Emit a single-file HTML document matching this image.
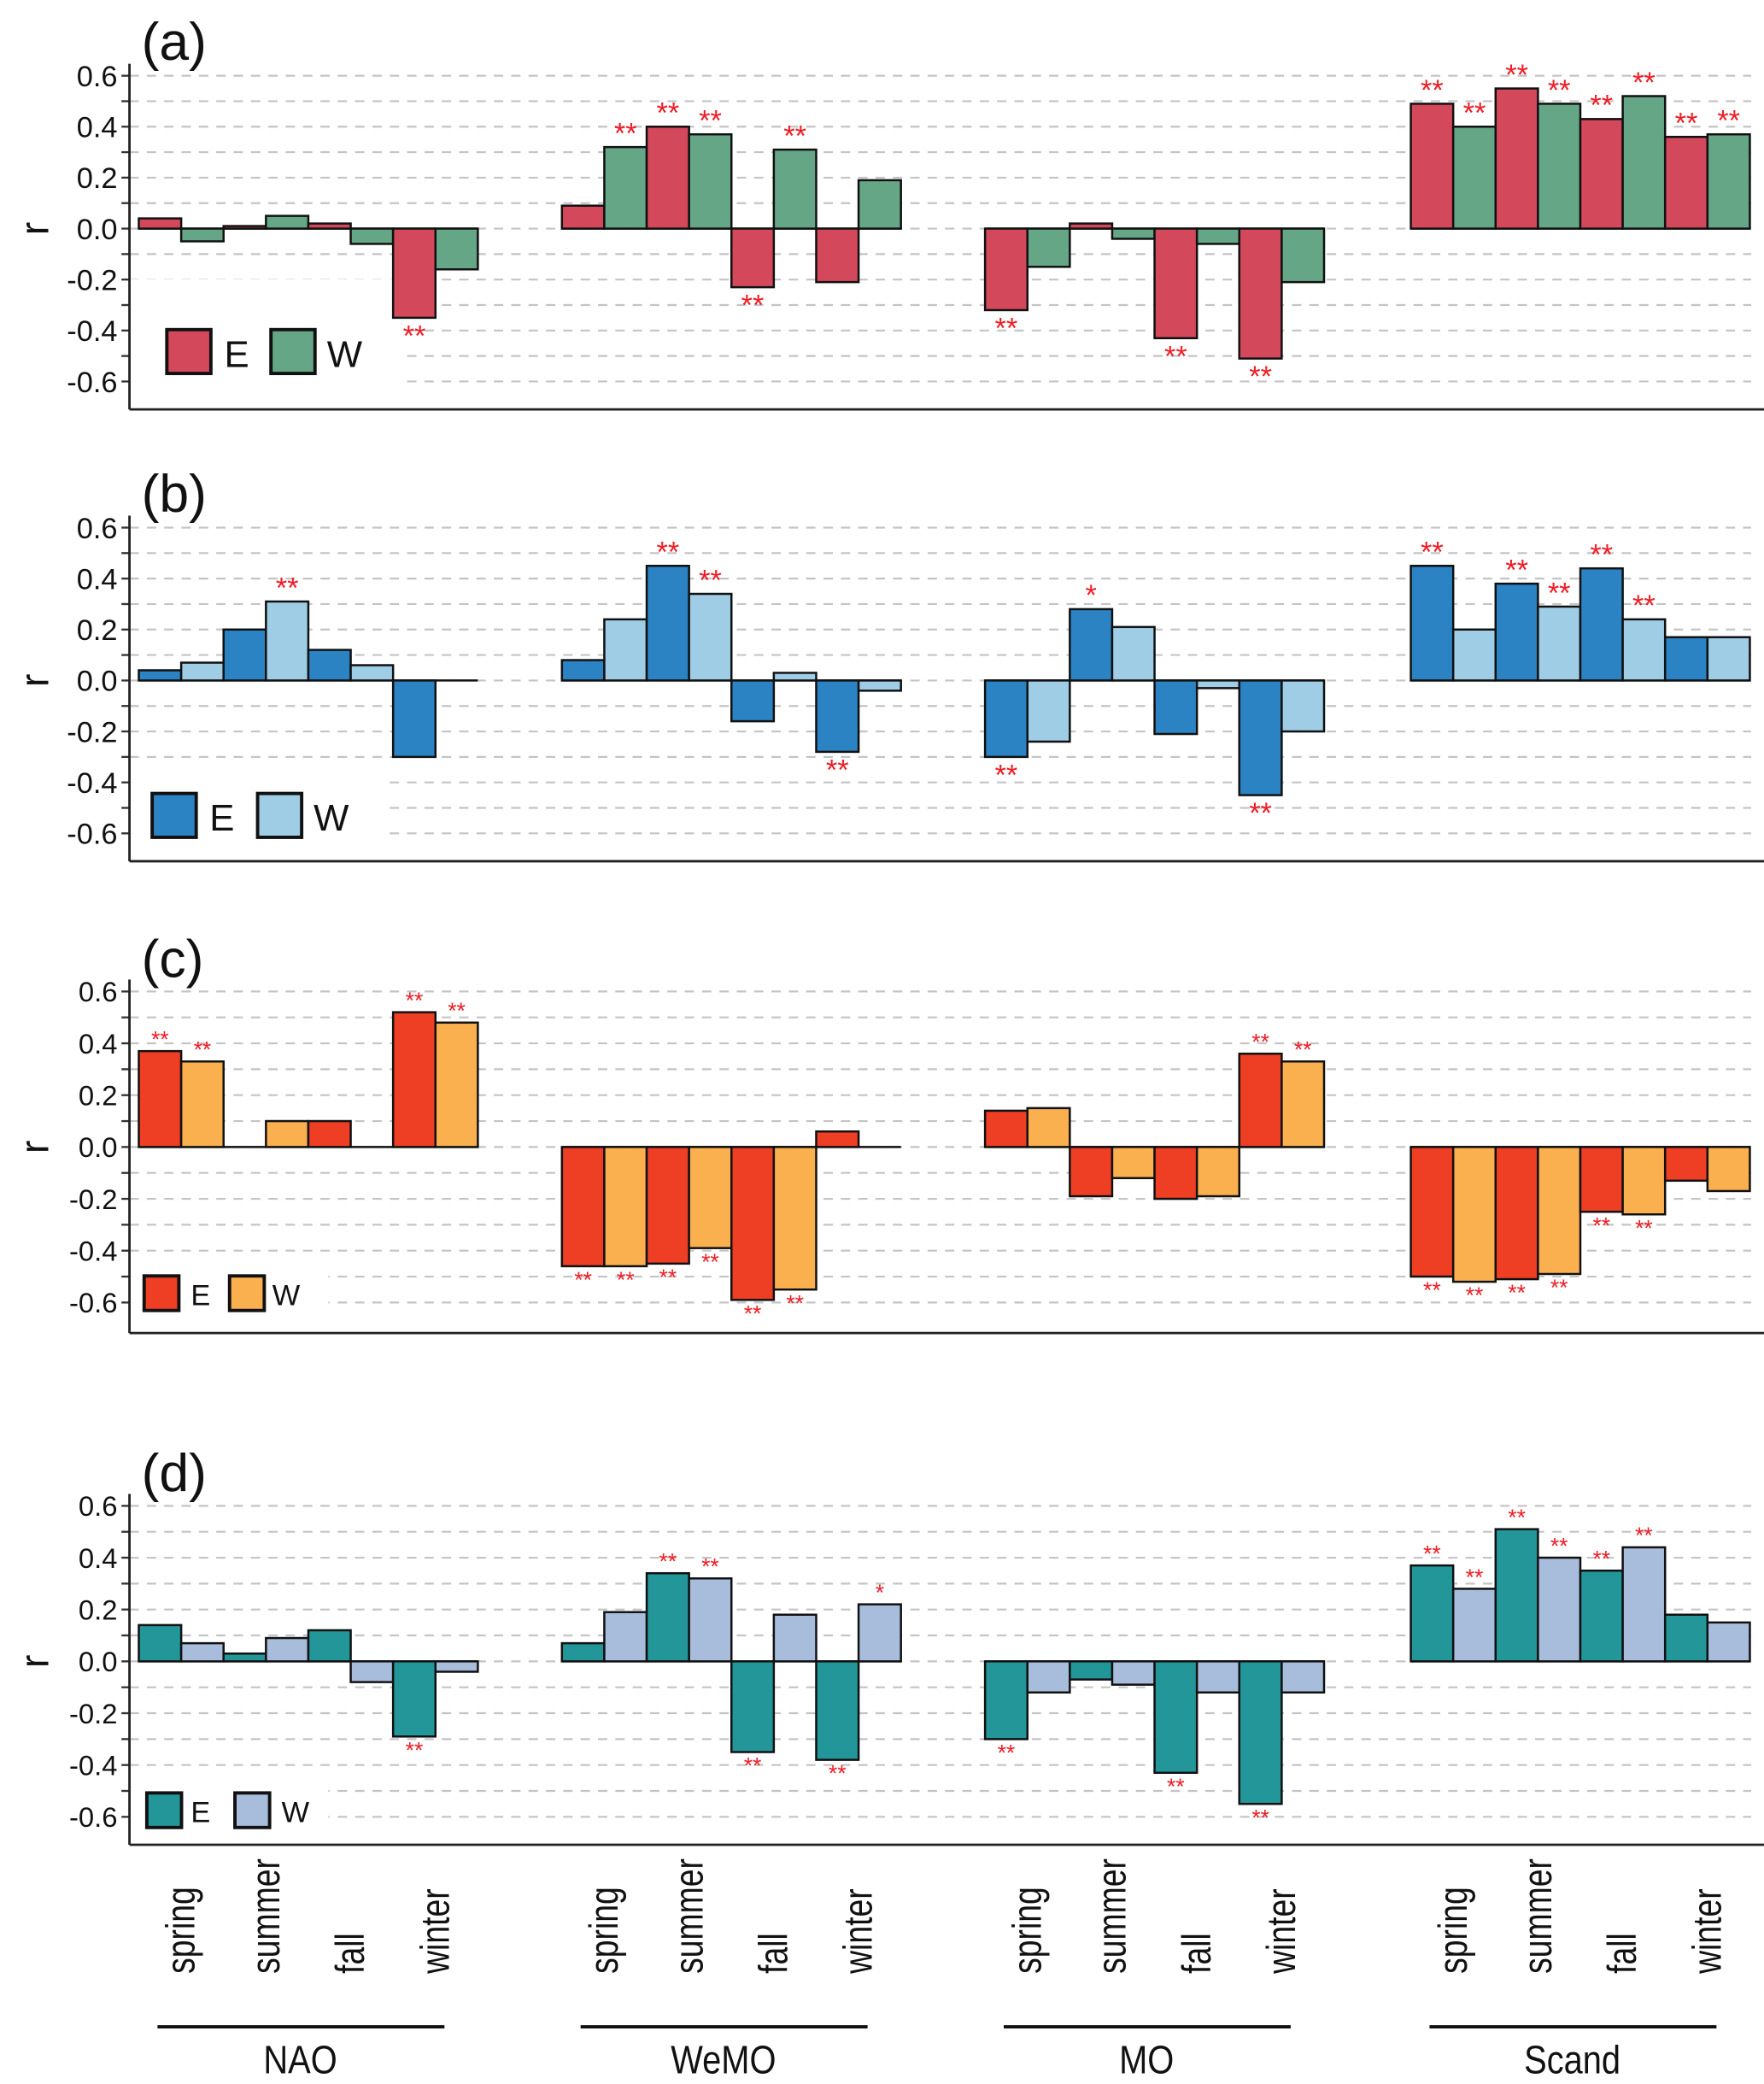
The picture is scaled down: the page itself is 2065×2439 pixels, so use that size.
<!DOCTYPE html>
<html><head><meta charset="utf-8"><style>
html,body{margin:0;padding:0;background:#fff}
svg{display:block}
text{font-family:"Liberation Sans","DejaVu Sans",sans-serif}
</style></head><body>
<svg id="chart" xmlns="http://www.w3.org/2000/svg" width="2065" height="2439" viewBox="0 0 1321.6 1568" preserveAspectRatio="none"></svg>
<script>
const groups = ["NAO","WeMO","MO","Scand"];
const seasons = ["spring","summer","fall","winter"];
const tickLabels = ["0.6","0.4","0.2","0.0","-0.2","-0.4","-0.6"];
const tickValues = [0.6,0.4,0.2,0,-0.2,-0.4,-0.6];
// values per group: E,W,E,W,... (spring E, spring W, summer E, summer W, ...)
const aVals = [
 [0.04,-0.05,0.01,0.05,0.02,-0.06,-0.35,-0.16],
 [0.09,0.32,0.40,0.37,-0.23,0.31,-0.21,0.19],
 [-0.32,-0.15,0.02,-0.04,-0.43,-0.06,-0.51,-0.21],
 [0.49,0.40,0.55,0.49,0.43,0.52,0.36,0.37]];
const aSig = [
 ["","","","","","","**",""],
 ["","**","**","**","**","**","",""],
 ["**","","","","**","","**",""],
 ["**","**","**","**","**","**","**","**"]];
const bVals = [
 [0.04,0.07,0.20,0.31,0.12,0.06,-0.30,0],
 [0.08,0.24,0.45,0.34,-0.16,0.03,-0.28,-0.04],
 [-0.30,-0.24,0.28,0.21,-0.21,-0.03,-0.45,-0.20],
 [0.45,0.20,0.38,0.29,0.44,0.24,0.17,0.17]];
const bSig = [
 ["","","","**","","","",""],
 ["","","**","**","","","**",""],
 ["**","","*","","","","**",""],
 ["**","","**","**","**","**","",""]];
const cVals = [
 [0.37,0.33,0,0.10,0.10,0,0.52,0.48],
 [-0.46,-0.46,-0.45,-0.39,-0.59,-0.55,0.06,0],
 [0.14,0.15,-0.19,-0.12,-0.20,-0.19,0.36,0.33],
 [-0.50,-0.52,-0.51,-0.49,-0.25,-0.26,-0.13,-0.17]];
const cSig = [
 ["**","**","","","","","**","**"],
 ["**","**","**","**","**","**","",""],
 ["","","","","","","**","**"],
 ["**","**","**","**","**","**","",""]];
const dVals = [
 [0.14,0.07,0.03,0.09,0.12,-0.08,-0.29,-0.04],
 [0.07,0.19,0.34,0.32,-0.35,0.18,-0.38,0.22],
 [-0.30,-0.12,-0.07,-0.09,-0.43,-0.12,-0.55,-0.12],
 [0.37,0.28,0.51,0.40,0.35,0.44,0.18,0.15]];
const dSig = [
 ["","","","","","","**",""],
 ["","","**","**","**","","**","*"],
 ["**","","","","**","","**",""],
 ["**","**","**","**","**","**","",""]];

const NS="http://www.w3.org/2000/svg";
const svg=document.getElementById('chart');
function mk(tag,attrs,parent){const e=document.createElementNS(NS,tag);for(const k in attrs)e.setAttribute(k,attrs[k]);(parent||svg).appendChild(e);return e;}

const groupStart=[104,421,738,1057];
const barW=31.75;
const axisX=97;

const panels=[
 {id:"a",vals:aVals,sig:aSig,zero:172,unit:191.7,top:48,bottom:308,label:"(a)",labY:45,cE:"#d4485c",cW:"#65a687",
  leg:{x1:125,x2:203,y:248,s:33,fs:28,tx:168,tx2:245,cover:[97,210,300]},sfs:22,tfs:22},
 {id:"b",vals:bVals,sig:bSig,zero:512,unit:191.7,top:388,bottom:648,label:"(b)",labY:385,cE:"#2b83c4",cW:"#9fcde6",
  leg:{x1:114,x2:193,y:597,s:33,fs:28,tx:157,tx2:235,cover:[97,575,290]},sfs:22,tfs:22},
 {id:"c",vals:cVals,sig:cSig,zero:863,unit:195,top:737,bottom:1003,label:"(c)",labY:735,cE:"#ee3e24",cW:"#fbb050",
  leg:{x1:108,x2:172,y:960,s:26,fs:22,tx:143,tx2:204,cover:[97,945,245]},sfs:17,tfs:21},
 {id:"d",vals:dVals,sig:dSig,zero:1250,unit:195,top:1124,bottom:1388,label:"(d)",labY:1122,cE:"#23969a",cW:"#a8bcdc",
  leg:{x1:110,x2:176,y:1349,s:26,fs:22,tx:143,tx2:211,cover:[97,1333,245]},sfs:17,tfs:21}
];

panels.forEach(p=>{
  const g=mk('g',{});
  
  
  const y=v=>p.zero-v*p.unit;
  for(let i=-6;i<=6;i++){
    const gl=mk('line',{x1:axisX,x2:1312,y1:y(i/10),y2:y(i/10),stroke:"#c4c4c4","stroke-width":1.4,"stroke-dasharray":"7 6"},g);
    
    
    const tk=mk('line',{x1:axisX-6,x2:axisX,y1:y(i/10),y2:y(i/10),stroke:"#333","stroke-width":1.5},g);
    
    
  }
  const c=p.leg.cover;
  const cov=mk('rect',{x:c[0]+1,y:c[1],width:c[2]-c[0],height:p.bottom-c[1]-2,fill:"#fff"},g);
  
  
  tickLabels.forEach((t,i)=>{
    const tl=mk('text',{x:88,y:y(tickValues[i])+p.tfs*0.36,"text-anchor":"end","font-size":p.tfs,fill:"#111"},g);
    tl.textContent=t;
    
    
  });
  const yt=mk('text',{x:0,y:0,transform:`translate(36,${p.zero}) rotate(-90)`,"text-anchor":"middle","font-size":30,fill:"#111"},g);
  yt.textContent="r";
  
  
  const pl=mk('text',{x:106,y:p.labY,"font-size":40,fill:"#111"},g);
  pl.textContent=p.label;
  
  
  p.vals.forEach((arr,gi)=>{
    const zl=mk('line',{x1:groupStart[gi],x2:groupStart[gi]+8*barW,y1:p.zero,y2:p.zero,stroke:"#111","stroke-width":1.6},g);
    
    
    arr.forEach((v,bi)=>{
      const x=groupStart[gi]+bi*barW;
      if(v!==0){
        const r=mk('rect',{x:x,y:Math.min(y(v),p.zero),width:barW,height:Math.abs(y(v)-p.zero),fill:bi%2?p.cW:p.cE,stroke:"#111","stroke-width":1.6},g);
        
        
      }
      const s=p.sig[gi][bi];
      if(s){
        const ty=v>=0? y(v)-3 : y(v)+p.sfs*0.95;
        const st=mk('text',{x:x+barW/2,y:ty,"text-anchor":"middle","font-size":p.sfs,fill:"#ee1c25"},g);
        st.textContent=s;
        
        
      }
    });
  });
  const ya=mk('line',{x1:axisX,x2:axisX,y1:p.top,y2:p.bottom,stroke:"#222","stroke-width":1.8},g);
  
  
  const xa=mk('line',{x1:axisX,x2:1322,y1:p.bottom,y2:p.bottom,stroke:"#222","stroke-width":1.8},g);
  
  
  const L=p.leg;
  const le=mk('rect',{x:L.x1,y:L.y,width:L.s,height:L.s,fill:p.cE,stroke:"#111","stroke-width":2.5},g);
  
  
  const lw=mk('rect',{x:L.x2,y:L.y,width:L.s,height:L.s,fill:p.cW,stroke:"#111","stroke-width":2.5},g);
  
  
  const lte=mk('text',{x:L.tx,y:L.y+L.s*0.85,"font-size":L.fs,fill:"#111"},g);
  lte.textContent="E";
  
  
  const ltw=mk('text',{x:L.tx2,y:L.y+L.s*0.85,"font-size":L.fs,fill:"#111"},g);
  ltw.textContent="W";
  
  
});

groups.forEach((gname,gi)=>{
  seasons.forEach((s,si)=>{
    const cx=groupStart[gi]+(2*si+1)*barW;
    const t=mk('text',{x:0,y:0,transform:`translate(${cx+10},1485) rotate(-90) scale(0.8,1)`,"font-size":30,fill:"#111"});
    t.textContent=s;
    
    
  });
  const l=mk('line',{x1:groupStart[gi]+14,x2:groupStart[gi]+229,y1:1525,y2:1525,stroke:"#111","stroke-width":2.5});
  
  
  const gt=mk('text',{x:0,y:0,transform:`translate(${groupStart[gi]+121},1560) scale(0.85,1)`,"text-anchor":"middle","font-size":30,fill:"#111"});
  gt.textContent=gname;
  
  
});
</script>
</body></html>
